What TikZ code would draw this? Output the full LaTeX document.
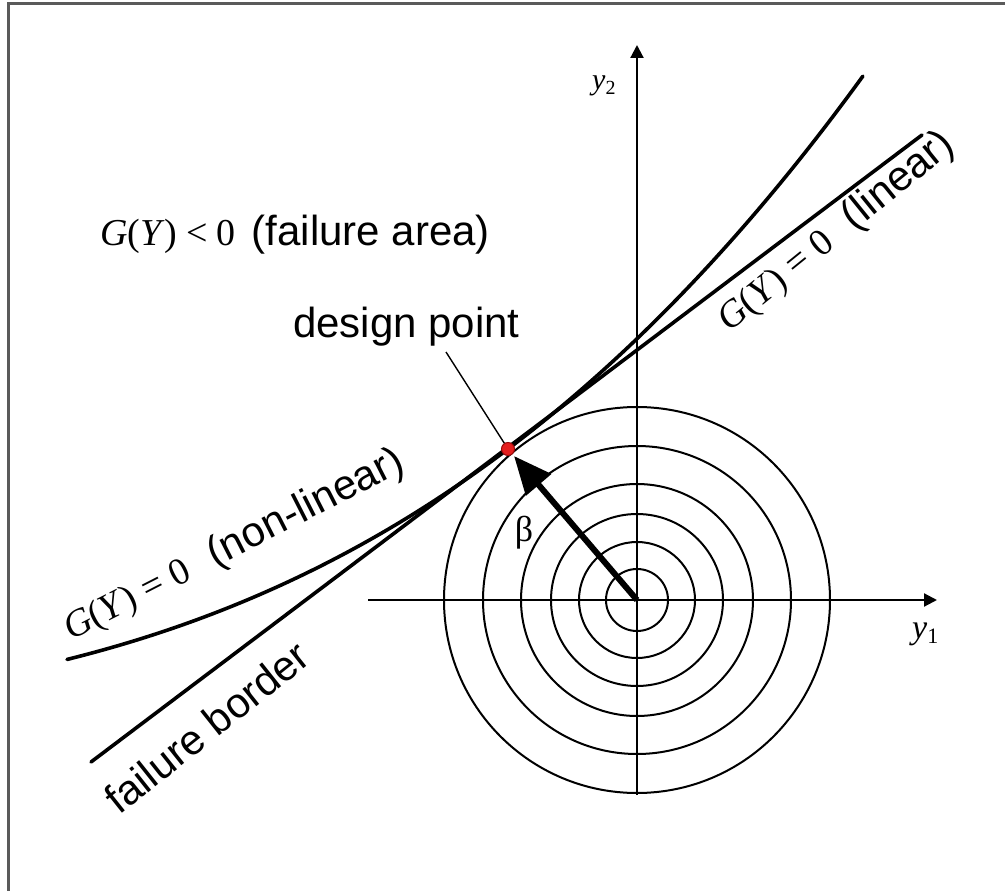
\documentclass[tikz,border=0pt]{standalone}
\usepackage{fontspec}
\setmainfont{Liberation Serif}
\newfontfamily\arialf{Liberation Sans}
\usetikzlibrary{arrows.meta}
\definecolor{dotred}{RGB}{228,30,30}
\definecolor{dotedge}{RGB}{150,10,10}
\definecolor{framegray}{RGB}{90,90,90}
\newcommand{\sanspart}[1]{{\arialf\fontsize{42}{48}\selectfont #1}}
\begin{document}
\begin{tikzpicture}[x=1pt,y=-1pt,
  axis/.style={line width=2.2pt,-{Triangle[length=13pt,width=13pt]}},
  ring/.style={line width=2pt},
  border/.style={line width=3.6pt,line cap=round},
  leader/.style={line width=1.4pt},
  lbl/.style={inner sep=0pt,anchor=base west},
  sanstext/.style={font=\arialf\fontsize{42}{48}\selectfont},
  sertext/.style={font=\fontsize{38}{42}\selectfont},
]
\useasboundingbox (0,0) rectangle (1005,891);
\fill[white] (0,0) rectangle (1005,891);
% frame (top and left edges)
\draw[framegray,line width=2.6pt] (8.3,891) -- (8.3,3.8) -- (1005,3.8);

\coordinate (O) at (637,600);
% concentric circles
\foreach \r in {31,58,86,116,154,193}
  \draw[ring] (O) circle[radius=\r pt];

% axes
\coordinate (xl) at (368,600);
\coordinate (xr) at (937,600);
\coordinate (yb) at (637,795);
\coordinate (yt) at (637,45);
\draw[axis] (xl) -- (xr);
\draw[axis] (yb) -- (yt);

% linear failure border
\coordinate (la) at (91,762);
\coordinate (lb) at (922,135);
\draw[border] (la) -- (lb);

% non-linear limit state
\draw[border] plot[domain=-4.41:3.55,samples=120,smooth]
  ({508+100*\x},{449-75.5*\x-7.425*\x*\x-0.2554*\x*\x*\x});

% design point and beta arrow
\node[circle,fill=dotred,draw=dotedge,line width=1pt,minimum size=13pt,inner sep=0pt] (dp) at (508,449) {};
\coordinate (tip) at (514,456);
\draw[line width=6pt,-{Triangle[length=38pt,width=32pt]}] (O) -- (tip);
\coordinate (ldr) at (446,352);
\draw[leader] (dp) -- (ldr);

% labels
\node[lbl,sertext] (fa) at (100,245) {\textit{G}(\textit{Y})\hspace{9pt}<\hspace{9pt}0\hspace{16pt}\sanspart{(failure area)}};
\node[lbl,sanstext] (dpt) at (293,337) {design point};
\node[lbl,sertext,rotate=39] (lin) at (729,333) {\textit{G}(\textit{Y})\hspace{10pt}=\hspace{10pt}0\hspace{24pt}\sanspart{(linear)}};
\node[lbl,sertext,rotate=27] (nlin) at (71,641) {\textit{G}(\textit{Y})\hspace{10pt}=\hspace{10pt}0\hspace{24pt}\sanspart{(non-linear)}};
\node[lbl,sanstext,rotate=38.5] (fb) at (119,816) {failure border};
\node[inner sep=0pt,font=\fontsize{36}{40}\selectfont] (beta) at (524,533) {β};
\node[lbl] (y2) at (592,90) {\fontsize{30}{34}\selectfont\textit{y}\raisebox{-5pt}{\fontsize{20}{22}\selectfont 2}};
\node[lbl] (y1) at (912,638) {\fontsize{34}{38}\selectfont\textit{y}\raisebox{-5pt}{\fontsize{22}{24}\selectfont 1}};
\end{tikzpicture}
\end{document}
